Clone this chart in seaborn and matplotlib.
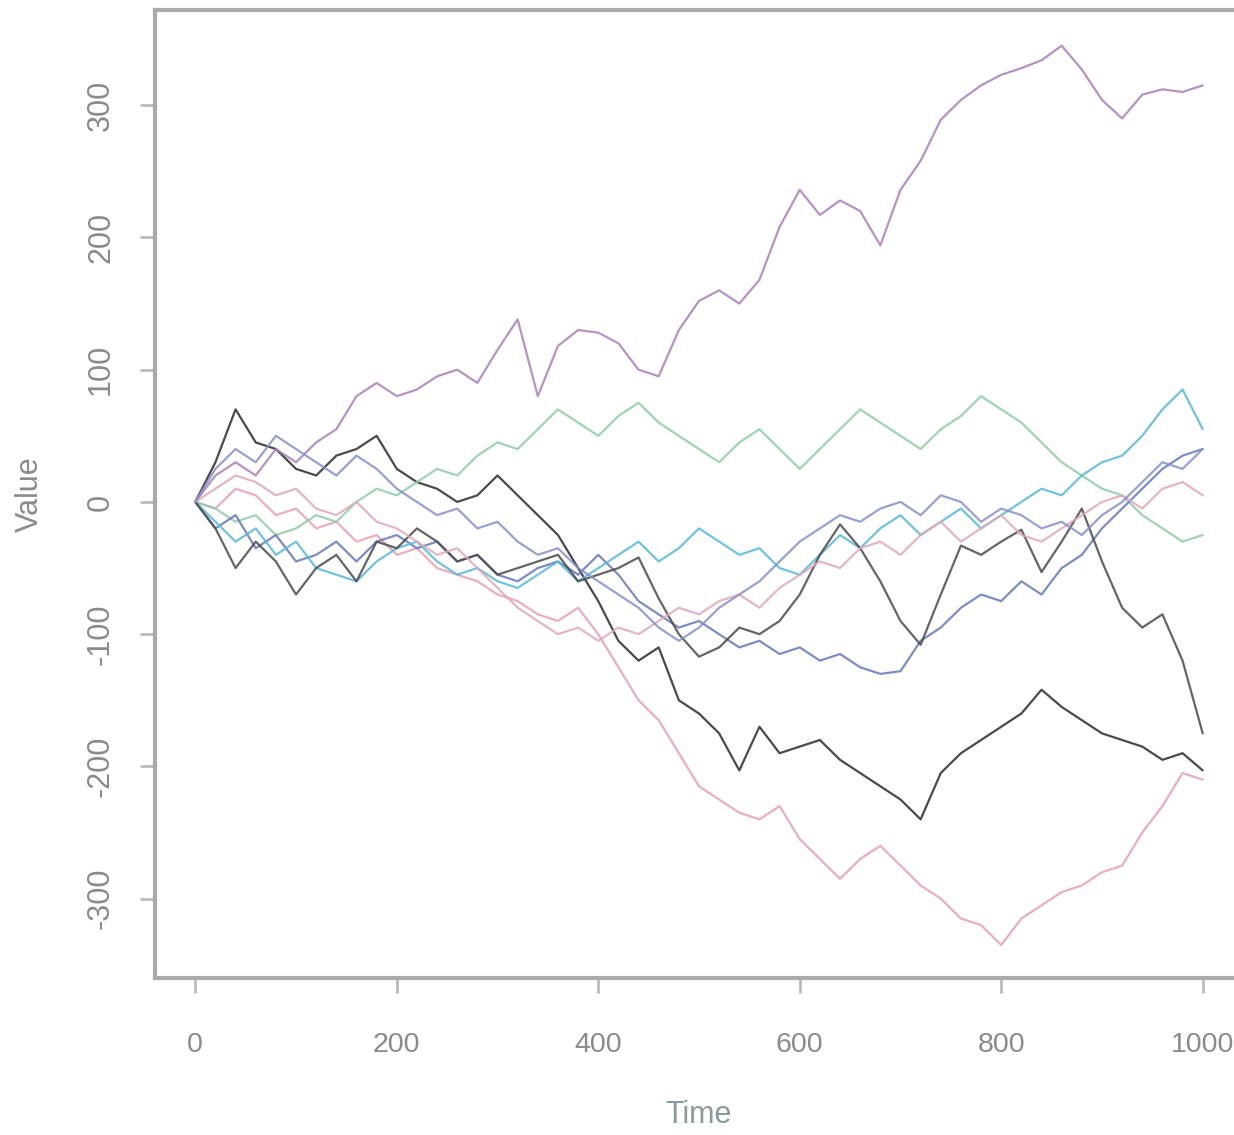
import matplotlib
matplotlib.use("Agg")
import matplotlib.pyplot as plt
import seaborn as sns
import numpy as np
import pandas as pd

# time grid (every 20 steps) and walk values
time = list(range(0, 1001, 20))

magenta = [0, 20, 30, 20, 40, 30, 45, 55, 80, 90, 80, 85, 95, 100, 90, 115, 138, 80, 118, 130,
           128, 120, 100, 95, 130, 152, 160, 150, 168, 208, 236, 217, 228, 220, 194, 236, 258, 289,
           304, 315, 323, 328, 334, 345, 327, 304, 290, 308, 312, 310, 315]
black_a = [0, 30, 70, 45, 40, 25, 20, 35, 40, 50, 25, 15, 10, 0, 5, 20, 5, -10, -25, -50,
           -75, -105, -120, -110, -150, -160, -175, -203, -170, -190, -185, -180, -195, -205, -215,
           -225, -240, -205, -190, -180, -170, -160, -142, -155, -165, -175, -180, -185, -195, -190, -203]
black_b = [0, -20, -50, -30, -45, -70, -50, -40, -60, -30, -35, -20, -30, -45, -40, -55, -50,
           -45, -40, -60, -55, -50, -42, -73, -100, -117, -110, -95, -100, -90, -70, -40, -17, -35,
           -60, -90, -108, -70, -33, -40, -30, -21, -53, -30, -5, -45, -80, -95, -85, -120, -175]
red_a = [0, -5, 10, 5, -10, -5, -20, -15, -30, -25, -40, -35, -50, -55, -60, -70, -75, -85, -90,
         -80, -100, -125, -150, -165, -190, -215, -225, -235, -240, -230, -255, -270, -285, -270,
         -260, -275, -290, -300, -315, -320, -335, -315, -305, -295, -290, -280, -275, -250, -230, -205, -210]
red_b = [0, 10, 20, 15, 5, 10, -5, -10, 0, -15, -20, -30, -40, -35, -50, -65, -80, -90, -100,
         -95, -105, -95, -100, -90, -80, -85, -75, -70, -80, -65, -55, -45, -50, -35, -30, -40,
         -25, -15, -30, -20, -10, -25, -30, -20, -10, 0, 5, -5, 10, 15, 5]
blue_a = [0, -20, -10, -35, -25, -45, -40, -30, -45, -30, -25, -35, -30, -45, -40, -55, -60, -50,
          -45, -55, -40, -55, -75, -85, -95, -90, -100, -110, -105, -115, -110, -120, -115, -125,
          -130, -128, -105, -95, -80, -70, -75, -60, -70, -50, -40, -20, -5, 10, 25, 35, 40]
blue_b = [0, 25, 40, 30, 50, 40, 30, 20, 35, 25, 10, 0, -10, -5, -20, -15, -30, -40, -35, -50,
          -60, -70, -80, -95, -105, -95, -80, -70, -60, -45, -30, -20, -10, -15, -5, 0, -10, 5, 0,
          -15, -5, -10, -20, -15, -25, -10, 0, 15, 30, 25, 40]
cyan = [0, -15, -30, -20, -40, -30, -50, -55, -60, -45, -35, -30, -45, -55, -50, -60, -65, -55,
        -45, -60, -50, -40, -30, -45, -35, -20, -30, -40, -35, -50, -55, -40, -25, -35, -20, -10,
        -25, -15, -5, -20, -10, 0, 10, 5, 20, 30, 35, 50, 70, 85, 55]
green = [0, -5, -15, -10, -25, -20, -10, -15, 0, 10, 5, 15, 25, 20, 35, 45, 40, 55, 70, 60, 50,
         65, 75, 60, 50, 40, 30, 45, 55, 40, 25, 40, 55, 70, 60, 50, 40, 55, 65, 80, 70, 60, 45,
         30, 20, 10, 5, -10, -20, -30, -25]

series_names = ["black_a", "red_a", "green", "blue_a", "cyan", "magenta",
                "black_b", "red_b", "blue_b"]
series_vals = [black_a, red_a, green, blue_a, cyan, magenta, black_b, red_b, blue_b]
line_colors = ["#2a2a2a", "#e8a0b0", "#90cca8", "#6878b8", "#58b8d8", "#a880b8",
               "#4a4a4a", "#e0a8b8", "#8890c8"]

df = pd.DataFrame({
    "Time": time * len(series_names),
    "Value": sum(series_vals, []),
    "walk": np.repeat(series_names, len(time)),
})

sns.set_theme(style="white")
plt.rcParams["font.family"] = ["Liberation Sans", "DejaVu Sans"]

fig = plt.figure(figsize=(12.34, 11.35), dpi=100)
ax = fig.add_axes([0.1256, 0.1383, 0.8817, 0.8529])

sns.lineplot(data=df, x="Time", y="Value", hue="walk", hue_order=series_names,
             palette=dict(zip(series_names, line_colors)), linewidth=1.6, alpha=0.85,
             legend=False, ax=ax)

ax.set_xlim(-40, 1040)
ax.set_ylim(-360, 372)
ax.set_xticks([0, 200, 400, 600, 800, 1000])
ax.set_yticks([-300, -200, -100, 0, 100, 200, 300])
ax.set_yticklabels(["-300", "-200", "-100", "0", "100", "200", "300"], rotation=90, va="center")

for side in ["left", "bottom", "top", "right"]:
    ax.spines[side].set_color("#aaaaaa")
    ax.spines[side].set_linewidth(3)

ax.tick_params(axis="both", which="major", direction="out", length=11, width=2,
               color="#bbbbbb", labelcolor="#8a8a8a", labelsize=22, bottom=True, left=True)
ax.tick_params(axis="x", pad=28, labelsize=20.5)
ax.tick_params(axis="y", pad=17)

ax.set_xlabel("Time", fontsize=22, color="#8a9a9a", labelpad=30)
ax.set_ylabel("Value", fontsize=22, color="#8a8a8a", labelpad=30)

fig.savefig("out.png", dpi=100)
